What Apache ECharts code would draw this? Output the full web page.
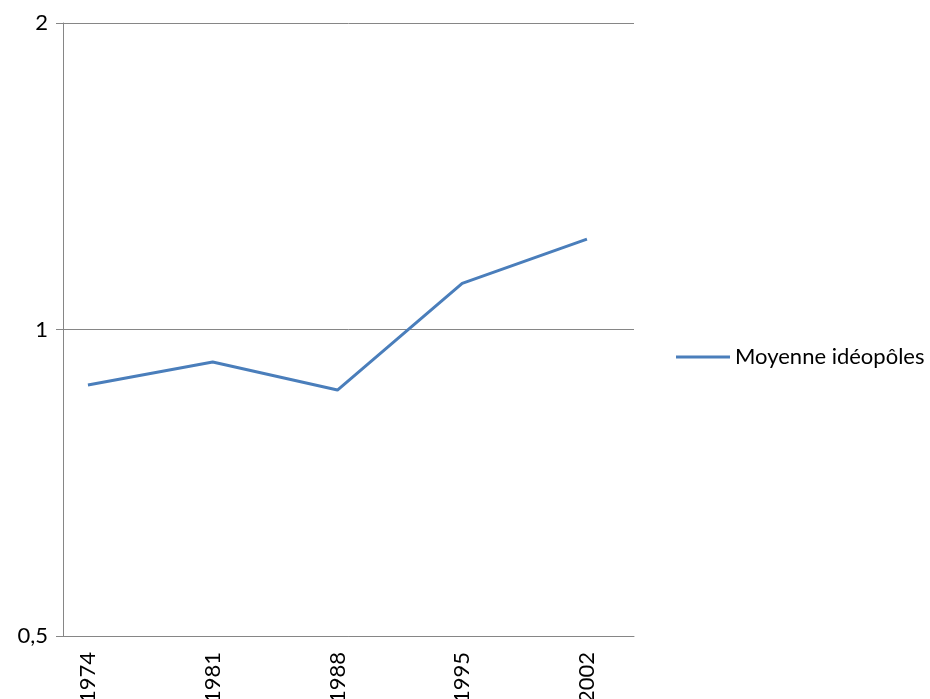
<!DOCTYPE html>
<html>
<head>
<meta charset="utf-8">
<script src="https://cdn.jsdelivr.net/npm/echarts@6/dist/echarts.min.js"></script>
<style>
html,body{margin:0;padding:0;background:#fff;}
#c{width:930px;height:699px;}
</style>
</head>
<body>
<div id="c"></div>
<script>
var years = [1974, 1981, 1988, 1995, 2002];
var values = [0.882, 0.929, 0.872, 1.110, 1.227];
var seriesName = 'Moyenne idéopôles';
var yTicks = [0.5, 1, 2];

var chart = echarts.init(document.getElementById('c'));
var FONT = 'Lato';
chart.setOption({
  backgroundColor: '#ffffff',
  animation: false,
  grid: {left: 63, right: 296, top: 23, bottom: 63, containLabel: false, outerBoundsMode: 'none'},
  legend: {
    left: 676, top: 346, padding: 0,
    itemWidth: 54, itemHeight: 14,
    data: [{name: seriesName, icon: 'path://M0,6 L54,6 L54,9 L0,9 Z'}],
    textStyle: {fontFamily: FONT, fontSize: 22, color: '#000'}
  },
  xAxis: {
    type: 'value',
    min: 1972.6, max: 2004.64,
    axisLine: {show: true, lineStyle: {color: '#868686', width: 1}},
    axisTick: {show: false},
    splitLine: {show: false},
    axisLabel: {
      customValues: years,
      rotate: 90,
      margin: 16,
      fontFamily: FONT, fontSize: 22, color: '#000',
      formatter: function (v) { return String(v); }
    }
  },
  yAxis: {
    type: 'log',
    logBase: 2,
    min: 0.5, max: 2,
    axisLine: {show: true, lineStyle: {color: '#868686', width: 1}},
    axisTick: {show: true, length: 7, lineStyle: {color: '#868686'}},
    splitLine: {show: true, lineStyle: {color: '#868686', width: 1}},
    axisLabel: {
      customValues: yTicks,
      margin: 15,
      fontFamily: FONT, fontSize: 22, color: '#000',
      formatter: function (v) { return String(v).replace('.', ','); }
    }
  },
  series: [{
    name: seriesName,
    type: 'line',
    data: years.map(function (y, i) { return [y, values[i]]; }),
    symbol: 'none',
    lineStyle: {color: '#4a7ebb', width: 3},
    itemStyle: {color: '#4a7ebb'}
  }]
});
</script>
</body>
</html>
